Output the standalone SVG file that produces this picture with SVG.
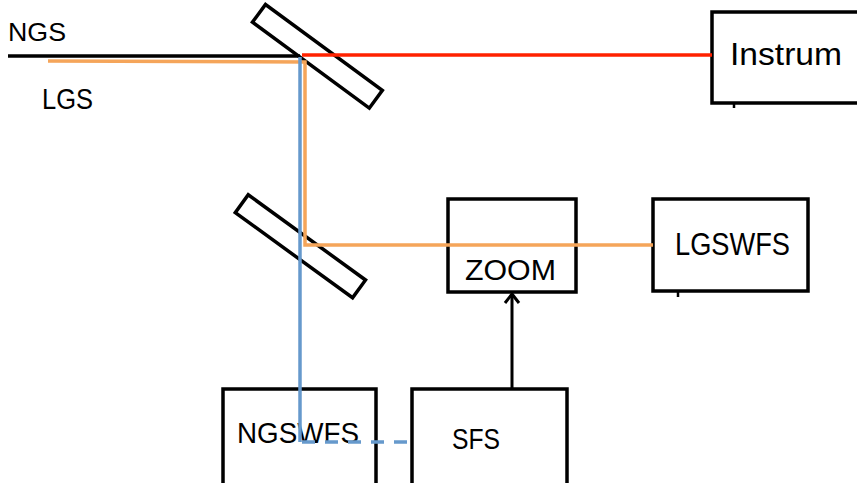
<svg xmlns="http://www.w3.org/2000/svg" width="857" height="483" viewBox="0 0 857 483">
<defs>
<style>
.box{fill:none;stroke:#000;stroke-width:3.5}
.mir{fill:none;stroke:#000;stroke-width:3.5}
.t{font-family:"Liberation Sans",Arial,sans-serif;fill:#000}
.ln{fill:none;stroke-width:3.5}
</style>
</defs>
<rect width="857" height="483" fill="#fff"/>
<g id="mirror1"><rect class="mir" x="245" y="45" width="145" height="22" transform="rotate(36.3 317 56)"/></g>
<g id="mirror2"><rect class="mir" x="228" y="235" width="145" height="22" transform="rotate(36 300 246)"/></g>
<g id="instrum"><rect class="box" x="712" y="12" width="160" height="91"/>
<line x1="734" y1="103" x2="734" y2="108" stroke="#000" stroke-width="2.5"/>
<text class="t" x="730" y="65" font-size="32" textLength="112" lengthAdjust="spacingAndGlyphs">Instrum</text></g>
<g id="zoom"><rect class="box" x="448" y="199" width="128" height="93"/>
<text class="t" x="465" y="280" font-size="29" textLength="91" lengthAdjust="spacingAndGlyphs">ZOOM</text></g>
<g id="lgswfs"><rect class="box" x="653" y="199" width="155" height="92"/>
<line x1="678" y1="291" x2="678" y2="297" stroke="#000" stroke-width="2.5"/>
<text class="t" x="675" y="255" font-size="31" textLength="115" lengthAdjust="spacingAndGlyphs">LGSWFS</text></g>
<g id="ngswfs"><rect class="box" x="223" y="389" width="153" height="100"/>
<text class="t" x="237" y="443" font-size="30" textLength="122" lengthAdjust="spacingAndGlyphs">NGSWFS</text></g>
<g id="sfs"><rect class="box" x="412" y="389" width="155" height="100"/>
<text class="t" x="452" y="449" font-size="30" textLength="48" lengthAdjust="spacingAndGlyphs">SFS</text></g>
<g id="labels">
<text class="t" x="8" y="41" font-size="26" textLength="58" lengthAdjust="spacingAndGlyphs">NGS</text>
<text class="t" x="42" y="109" font-size="29" textLength="51" lengthAdjust="spacingAndGlyphs">LGS</text>
</g>
<g id="connectors">
<line class="ln" x1="8" y1="56" x2="300" y2="56" stroke="#000"/>
<line class="ln" x1="302" y1="55" x2="712" y2="55" stroke="#ff2200"/>
<polyline class="ln" points="48,61 305,62 305,245 653,245" stroke="#f5a55a"/>
<polyline class="ln" points="300,57 300,442" stroke="#6699cc"/>
<line class="ln" x1="302" y1="442" x2="412" y2="442" stroke="#6699cc" stroke-dasharray="13,10"/>
<line x1="512" y1="389" x2="512" y2="294" stroke="#000" stroke-width="3"/>
<path d="M505,303 L512,294 L519,303" fill="none" stroke="#000" stroke-width="3"/>
</g>
</svg>
